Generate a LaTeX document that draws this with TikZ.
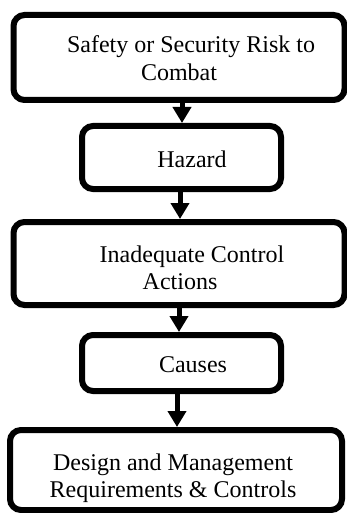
\documentclass[tikz,border=0pt]{standalone}
\usepackage{fontspec}
\setmainfont{Liberation Serif}
\usetikzlibrary{arrows.meta}
\tikzset{
  stepbox/.style={draw=black, line width=6pt, rounded corners=11pt,
    inner sep=0pt, fill=white},
  label/.style={anchor=base, inner sep=0pt, font=\fontsize{24pt}{28pt}\selectfont},
  flow/.style={draw=black, line width=5pt,
    -{Triangle[width=18pt,length=16pt]}}
}
\begin{document}
\begin{tikzpicture}[x=1pt, y=-1pt]
  \useasboundingbox (0,0) rectangle (346,513);

  % boxes
  \node[stepbox, minimum width=331pt, minimum height=85pt] (b1) at (179,57.5) {};
  \node[stepbox, minimum width=199pt, minimum height=63pt] (b2) at (181.5,157.5) {};
  \node[stepbox, minimum width=331pt, minimum height=83pt] (b3) at (179,263.5) {};
  \node[stepbox, minimum width=199pt, minimum height=56pt] (b4) at (181.5,363) {};
  \node[stepbox, minimum width=332pt, minimum height=80pt] (b5) at (176,470) {};

  % box texts
  \node[label] (t1a) at (191,53) {Safety or Security Risk to};
  \node[label] (t1b) at (179,81) {Combat};
  \node[label] (t2)  at (192,167) {Hazard};
  \node[label] (t3a) at (192,262) {Inadequate Control};
  \node[label] (t3b) at (180,289) {Actions};
  \node[label] (t4)  at (193,372) {Causes};
  \node[label] (t5a) at (173,470) {Design and Management};
  \node[label] (t5b) at (173,497) {Requirements \& Controls};

  % connectors
  \draw[flow] ([xshift=3pt]b1.south) -- ([xshift=0.5pt]b2.north);
  \draw[flow] ([xshift=-1.5pt]b2.south) -- ([xshift=1pt]b3.north);
  \draw[flow] (b3.south) -- ([xshift=-2.5pt]b4.north);
  \draw[flow] ([xshift=-4.5pt]b4.south) -- ([xshift=1pt]b5.north);
\end{tikzpicture}
\end{document}
